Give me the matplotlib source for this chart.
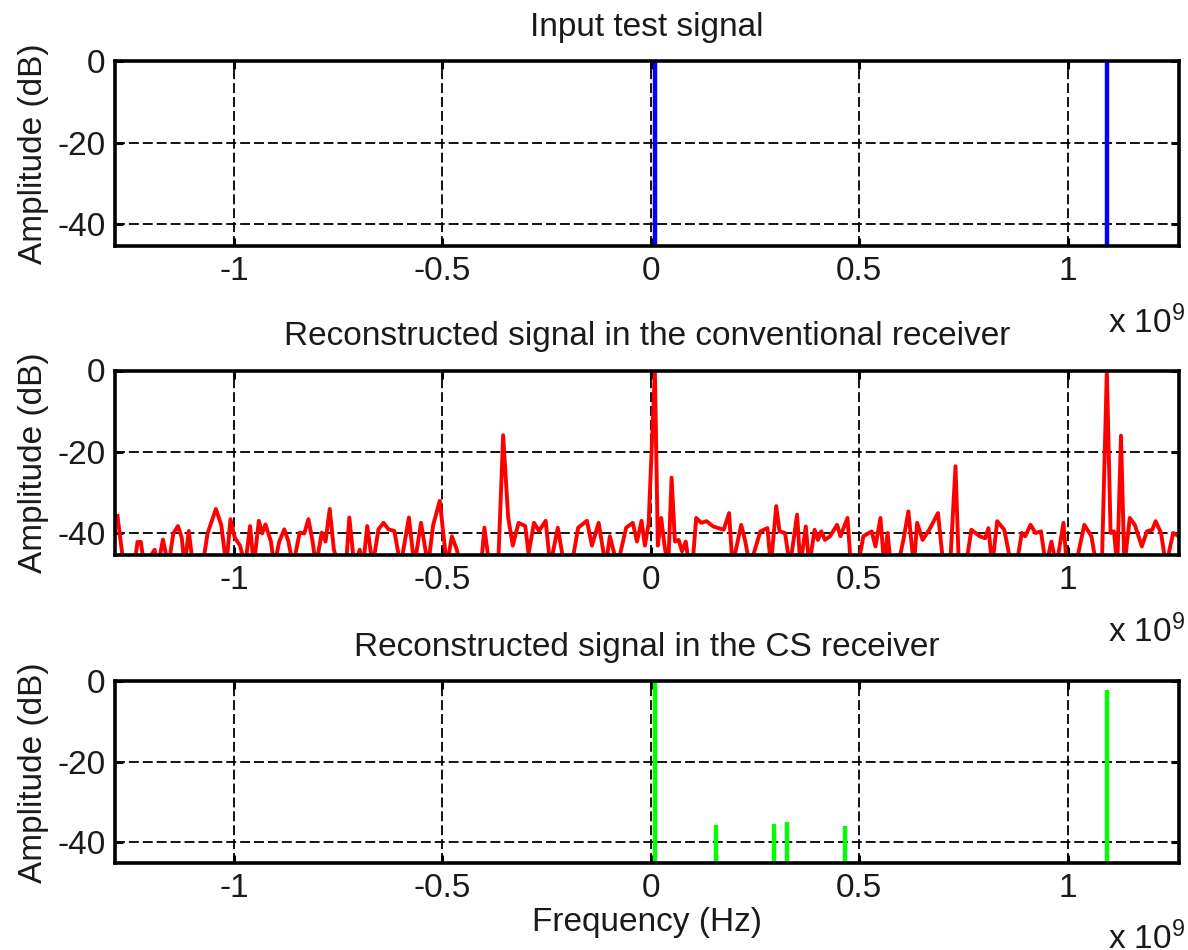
import matplotlib
matplotlib.use('Agg')
import matplotlib.pyplot as plt
from matplotlib.ticker import FuncFormatter

plt.rcParams['font.family'] = ['Liberation Sans', 'DejaVu Sans']
plt.rcParams['mathtext.default'] = 'regular'

# Input test signal: two tones (Hz, dB)
input_freq = [0.010e9, 1.094e9]
input_db = [0.0, 0.0]

# Conventional receiver spectrum (GHz, dB)
conv_ghz = [-1.279, -1.264, -1.239, -1.231, -1.223, -1.215, -1.190, -1.182, -1.170, -1.157,
            -1.145, -1.134, -1.125, -1.118, -1.108, -1.098, -1.075, -1.063, -1.043, -1.030,
            -1.018, -1.008, -0.998, -0.985, -0.973, -0.961, -0.952, -0.940, -0.932, -0.924,
            -0.911, -0.903, -0.891, -0.879, -0.869, -0.858, -0.842, -0.831, -0.821, -0.811,
            -0.803, -0.789, -0.780, -0.770, -0.760, -0.748, -0.731, -0.723, -0.711, -0.698,
            -0.690, -0.680, -0.667, -0.653, -0.641, -0.629, -0.615, -0.600, -0.580, -0.567,
            -0.551, -0.534, -0.522, -0.506, -0.489, -0.477, -0.465, -0.457, -0.407, -0.399,
            -0.387, -0.366, -0.354, -0.342, -0.331, -0.317, -0.301, -0.293, -0.280, -0.268,
            -0.252, -0.241, -0.223, -0.207, -0.190, -0.174, -0.153, -0.141, -0.125, -0.108,
            -0.098, -0.080, -0.059, -0.043, -0.033, -0.022, -0.014, -0.005, 0.010, 0.017,
            0.025, 0.033, 0.042, 0.050, 0.058, 0.067, 0.075, 0.084, 0.092, 0.100,
            0.109, 0.121, 0.134, 0.150, 0.175, 0.188, 0.196, 0.217, 0.226, 0.238,
            0.263, 0.280, 0.288, 0.301, 0.309, 0.322, 0.334, 0.351, 0.359, 0.372,
            0.380, 0.393, 0.401, 0.409, 0.418, 0.430, 0.447, 0.455, 0.472, 0.480,
            0.497, 0.510, 0.530, 0.539, 0.551, 0.560, 0.568, 0.576, 0.593, 0.606,
            0.618, 0.631, 0.639, 0.652, 0.668, 0.689, 0.702, 0.718, 0.731, 0.739,
            0.756, 0.769, 0.789, 0.802, 0.810, 0.819, 0.831, 0.848, 0.865, 0.877,
            0.890, 0.898, 0.911, 0.923, 0.936, 0.948, 0.961, 0.973, 0.990, 0.998,
            1.019, 1.040, 1.057, 1.069, 1.082, 1.094, 1.103, 1.111, 1.119, 1.128,
            1.136, 1.149, 1.161, 1.178, 1.190, 1.203, 1.211, 1.224, 1.236, 1.253,
            1.266]
conv_db = [-35.7, -48, -48, -42.1, -42.1, -48, -44, -48, -41.5, -48,
           -40, -38.2, -41, -48, -39.4, -48, -48, -40, -34, -38,
           -48, -36.5, -41, -43, -48, -38.2, -48, -36.9, -40, -37.8,
           -42, -48, -42, -39, -42, -48, -39.8, -40, -36.5, -42,
           -48, -39.8, -42, -34, -44, -48, -48, -36.1, -48, -44,
           -48, -38.2, -48, -39, -37.4, -39, -39.4, -48, -36.1, -48,
           -37.4, -48, -38, -32, -48, -40.7, -44, -48, -48, -38.6,
           -48, -48, -15.9, -36, -43, -37.4, -38.2, -45, -37.4, -39.4,
           -36.9, -48, -38.6, -48, -48, -38.6, -36.9, -43, -37.4, -48,
           -40.7, -48, -38.6, -37.4, -42, -36.9, -43, -37.5, 0.0, -43,
           -36.2, -43, -48, -26.3, -42, -41.6, -44.4, -42, -48, -48,
           -36.2, -37.4, -37, -38.3, -39.1, -35, -48, -37.9, -41.6, -48,
           -39.5, -38.7, -48, -33.3, -39.5, -39.9, -48, -35.4, -48, -38.3,
           -48, -39.1, -41.6, -39.5, -41.6, -40.7, -37.9, -40.7, -36.2, -48,
           -48, -40.7, -39.5, -43.2, -36.2, -48, -39.9, -48, -48, -41.6,
           -34.6, -48, -37.4, -41.6, -39.1, -35, -48, -48, -23.5, -48,
           -48, -39.1, -40.7, -41.2, -38.7, -48, -37, -39.1, -48, -48,
           -39.9, -40.7, -37.9, -39.9, -39.5, -48, -42, -48, -37.4, -48,
           -48, -37.9, -40.7, -48, -48, 0.0, -39.9, -39.5, -48, -16,
           -48, -36.2, -37.9, -43.2, -39.5, -39.1, -37, -39.9, -48, -39.9,
           -40.7]
conv_freq = [g * 1e9 for g in conv_ghz]

# CS receiver: recovered components (Hz, dB)
cs_freq = [0.010e9, 0.156e9, 0.295e9, 0.327e9, 0.467e9, 1.094e9]
cs_db = [0.0, -35.7, -35.5, -35.0, -36.0, -2.3]

titles = ['Input test signal',
          'Reconstructed signal in the conventional receiver',
          'Reconstructed signal in the CS receiver']

fig = plt.figure(figsize=(11.88, 9.5), dpi=100)
ax1 = fig.add_axes([0.0968, 0.741, 0.8956, 0.1947])
ax2 = fig.add_axes([0.0968, 0.4158, 0.8956, 0.1942])
ax3 = fig.add_axes([0.0968, 0.0913, 0.8956, 0.1917])

ax1.vlines(input_freq, -60, input_db, color='#0000ff', linewidth=3.2)
ax2.plot(conv_freq, conv_db, color='#ff0000', linewidth=2.8)
ax3.vlines(cs_freq, -60, cs_db, color='#00ff00', linewidth=3.2)

fmt_x = FuncFormatter(lambda v, p: '%g' % round(v / 1e9, 3))
fmt_y = FuncFormatter(lambda v, p: '%g' % v)

for ax, title in zip([ax1, ax2, ax3], titles):
    ax.set_xlim(-1.285e9, 1.267e9)
    ax.set_ylim(-45.3, 0)
    ax.set_xticks([-1e9, -0.5e9, 0, 0.5e9, 1e9])
    ax.set_yticks([-40, -20, 0])
    ax.xaxis.set_major_formatter(fmt_x)
    ax.yaxis.set_major_formatter(fmt_y)
    ax.grid(True, color='black', linewidth=1.3, linestyle=(0, (5.5, 2.2)))
    ax.tick_params(direction='in', top=True, right=True, length=6, width=2.2,
                   labelsize=24, pad=7, labelcolor='#1a1a1a')
    for s in ax.spines.values():
        s.set_linewidth(2.6)
    ax.set_title(title, fontsize=24, pad=18, color='#1a1a1a')
    ax.set_ylabel('Amplitude (dB)', fontsize=24, color='#1a1a1a')
    ax.yaxis.set_label_coords(-0.062, 0.5)
    ax.text(1.006, -0.47, r'x 10$^9$', transform=ax.transAxes, ha='right',
            va='baseline', fontsize=24, color='#1a1a1a')

ax3.set_xlabel('Frequency (Hz)', fontsize=24, color='#1a1a1a')
ax3.xaxis.set_label_coords(0.5, -0.24)

fig.savefig('out.png', dpi=100)
